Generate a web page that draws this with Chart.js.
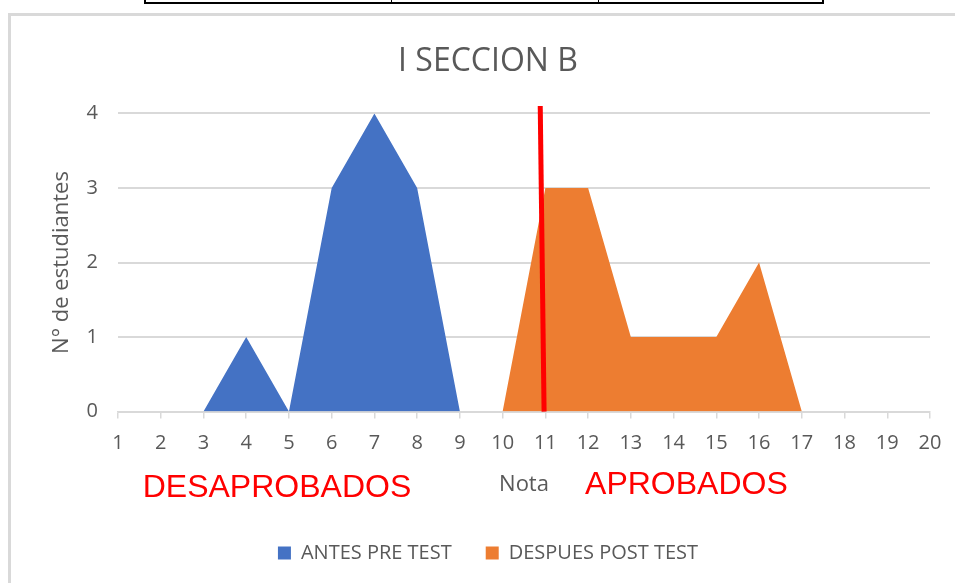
<!DOCTYPE html>
<html>
<head>
<meta charset="utf-8">
<script src="https://cdn.jsdelivr.net/npm/chart.js@4.4.1/dist/chart.umd.min.js"></script>
<style>
  html, body { margin: 0; padding: 0; background: #fff; overflow: hidden; }
  .tabla { position: absolute; left: 144px; top: -10px; width: 680px; height: 14px; border: 2px solid #000; box-sizing: border-box; }
  .tabla .sep { position: absolute; top: 0; bottom: 0; border-left: 1px solid #000; }
  #marco { position: absolute; left: 8px; top: 13px; width: 960px; height: 583px; border: 3px solid #d9d9d9; box-sizing: border-box; }
  #marco canvas { display: block; }
</style>
</head>
<body>
<div class="tabla"><div class="sep" style="left:245px"></div><div class="sep" style="left:452px"></div></div>
<div id="marco"><canvas id="grafico"></canvas></div>
<script>
// Notas del 1 al 20
const notas = ['1','2','3','4','5','6','7','8','9','10','11','12','13','14','15','16','17','18','19','20'];
const antesPreTest = [0, 0, 0, 1, 0, 3, 4, 3, 0, 0, 0, 0, 0, 0, 0, 0, 0, 0, 0, 0];
const despuesPostTest = [0, 0, 0, 0, 0, 0, 0, 0, 0, 0, 3, 3, 1, 1, 1, 2, 0, 0, 0, 0];
const ticksY = [0, 1, 2, 3, 4];

const gris = '#595959';

// linea roja y textos de aprobados / desaprobados
const anotaciones = {
    id: 'anotaciones',
    afterDatasetsDraw(chart) {
        const { ctx, scales: { x, y } } = chart;
        ctx.save();
        ctx.strokeStyle = '#ff0000';
        ctx.lineWidth = 5;
        ctx.beginPath();
        ctx.moveTo(x.getPixelForValue(9.88), y.getPixelForValue(4.1));
        ctx.lineTo(x.getPixelForValue(9.97), y.getPixelForValue(0));
        ctx.stroke();

        ctx.fillStyle = '#ff0000';
        ctx.font = '32px "Liberation Sans", Arial, sans-serif';
        ctx.textAlign = 'center';
        ctx.textBaseline = 'middle';
        const yTexto = y.getPixelForValue(0) + 77;
        ctx.fillText('DESAPROBADOS', x.getPixelForValue(3.72), yTexto);
        ctx.fillText('APROBADOS', x.getPixelForValue(13.3), yTexto - 3);
        ctx.restore();
    }
};

new Chart(document.getElementById('grafico'), {
    type: 'line',
    data: {
        labels: notas,
        datasets: [{
            label: 'ANTES PRE TEST',
            data: antesPreTest,
            backgroundColor: '#4472c4',
            borderWidth: 0,
            pointRadius: 0,
            fill: 'origin'
        }, {
            label: 'DESPUES POST TEST',
            data: despuesPostTest,
            backgroundColor: '#ed7d31',
            borderWidth: 0,
            pointRadius: 0,
            fill: 'origin'
        }]
    },
    options: {
        responsive: true,
        maintainAspectRatio: false,
        animation: false,
        layout: { padding: { left: 0, right: 0, top: 0, bottom: 20 } },
        plugins: {
            title: {
                display: true,
                text: 'I SECCION B',
                color: gris,
                font: { family: 'Open Sans, sans-serif', size: 32, weight: 'normal' },
                padding: { top: 27, bottom: 32 }
            },
            legend: {
                position: 'bottom',
                labels: {
                    color: gris,
                    boxWidth: 13,
                    boxHeight: 13,
                    padding: 34,
                    font: { family: 'Open Sans, sans-serif', size: 20 }
                }
            },
            tooltip: { enabled: false }
        },
        scales: {
            x: {
                title: {
                    display: true,
                    text: 'Nota',
                    color: gris,
                    font: { family: 'Open Sans, sans-serif', size: 22 },
                    padding: { top: 3, bottom: 11 }
                },
                grid: { drawOnChartArea: false, drawTicks: true, tickLength: 7, color: '#d9d9d9', lineWidth: 1.5 },
                border: { color: '#d9d9d9', width: 1.5 },
                ticks: { color: gris, maxRotation: 0, padding: 13, font: { family: 'Open Sans, sans-serif', size: 20 } }
            },
            y: {
                min: 0,
                max: 4,
                afterBuildTicks(scale) { scale.ticks = ticksY.map(v => ({ value: v })); },
                afterFit(scale) { scale.width = 107; },
                title: {
                    display: true,
                    text: 'N° de estudiantes',
                    color: gris,
                    font: { family: 'Open Sans, sans-serif', size: 22 },
                    padding: { top: 38, bottom: 0 }
                },
                grid: { drawTicks: false, color: '#d9d9d9', lineWidth: 2 },
                border: { display: false },
                ticks: { color: gris, padding: 20, font: { family: 'Open Sans, sans-serif', size: 20 } }
            },
            // margen derecho vacío, para que el título y la leyenda queden centrados en todo el ancho
            margenDerecho: {
                type: 'linear',
                position: 'right',
                afterFit(scale) { scale.width = 35; },
                grid: { display: false },
                border: { display: false },
                ticks: { display: false }
            }
        }
    },
    plugins: [anotaciones]
});
</script>
</body>
</html>
